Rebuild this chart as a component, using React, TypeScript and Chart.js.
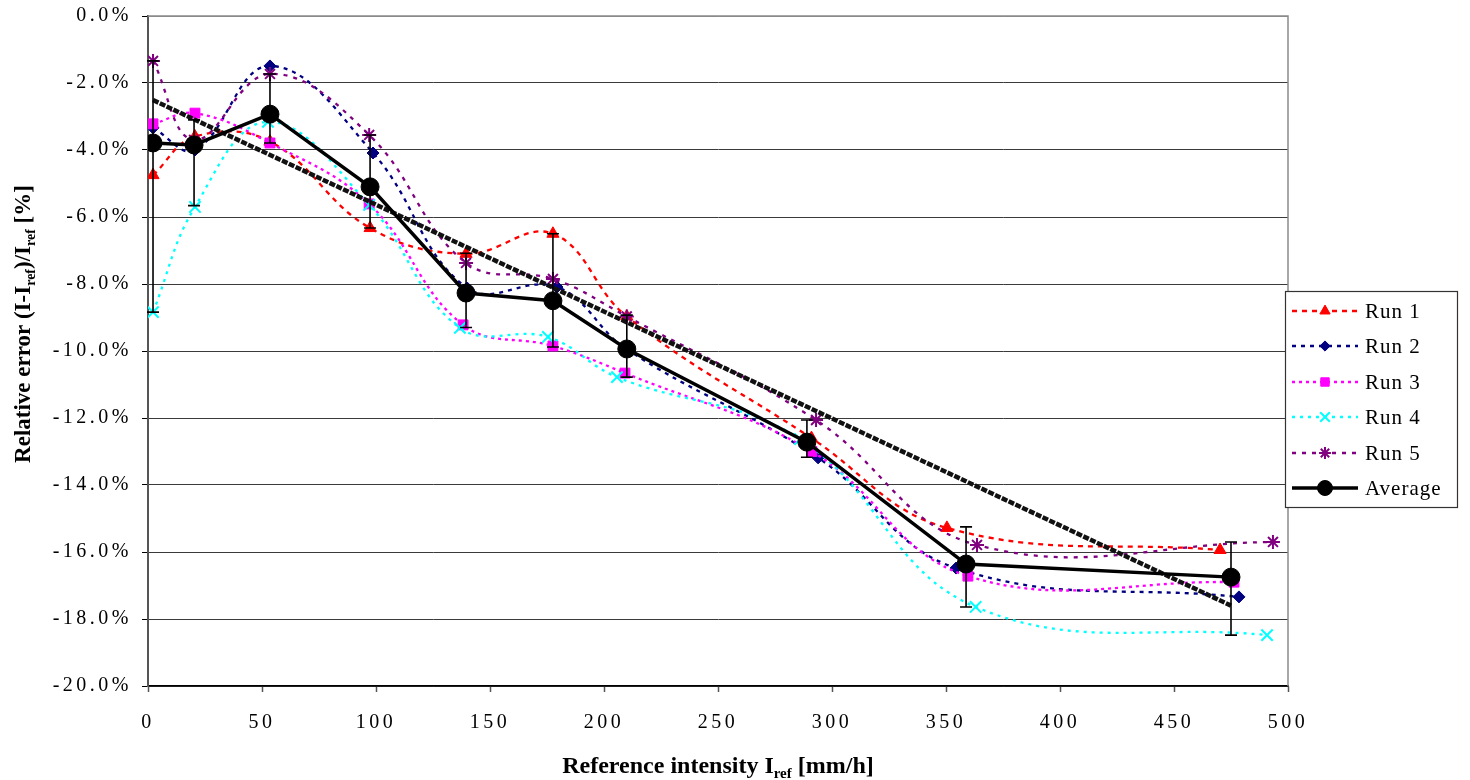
import React, { useEffect, useRef } from "react";
import { Chart, registerables } from "chart.js";
import { drawPoint } from "chart.js/helpers";

Chart.register(...registerables);

// ---------------- data ----------------
const xTickStep = 50;
const yTickStep = 2;

const run1X = [2.2, 20.6, 53.5, 97.4, 139.5, 177.6, 210, 291, 350.4, 470.2];
const run1Y = [-4.75, -3.6, -3.75, -6.33, -7.1, -6.5, -8.97, -12.6, -15.28, -15.94];

const run2X = [2.2, 20.6, 53.5, 98.7, 140, 179.4, 210, 293.9, 354.4, 478.5];
const run2Y = [-3.34, -4.0, -1.49, -4.09, -8.12, -8.09, -9.95, -13.19, -16.48, -17.34];

const run3X = [2.2, 20.6, 53.5, 97, 138.2, 177.6, 209.2, 291.2, 359.6, 476.3];
const run3Y = [-3.22, -2.9, -3.79, -5.61, -9.22, -9.85, -10.66, -13.0, -16.72, -16.9];

const run4X = [2.2, 20.6, 52.6, 97, 136.8, 175.4, 205.7, 286, 363, 490.8];
const run4Y = [-8.84, -5.7, -3.16, -5.64, -9.31, -9.58, -10.78, -12.63, -17.64, -18.48];

const run5X = [2.2, 20.2, 53.5, 97, 139.5, 177.6, 210, 293, 363.6, 493.4];
const run5Y = [-1.34, -3.7, -1.73, -3.55, -7.37, -7.85, -8.97, -12.06, -15.79, -15.7];

const avgX = [2.2, 20.2, 53.5, 97.4, 139.5, 177.6, 210, 289, 358.8, 475];
const avgY = [-3.79, -3.85, -2.93, -5.1, -8.27, -8.5, -9.94, -12.72, -16.36, -16.75];
const avgErrTop = [-1.34, -3.1, -1.73, -3.55, -7.08, -6.5, -8.93, -12.06, -15.25, -15.7];
const avgErrBottom = [-8.84, -5.66, -3.79, -6.33, -9.3, -9.88, -10.78, -13.17, -17.64, -18.48];

const trendX = [2.2, 475];
const trendY = [-2.51, -17.6];

const seriesLabels = ["Run 1", "Run 2", "Run 3", "Run 4", "Run 5", "Average"];
const xTitle = [{ t: "Reference intensity I" }, { t: "ref", sub: true }, { t: " [mm/h]" }];
const yTitle = [
  { t: "Relative error (I-I" },
  { t: "ref", sub: true },
  { t: ")/I" },
  { t: "ref", sub: true },
  { t: " [%]" },
];

// ---------------- styles ----------------
const FONT = "'Liberation Serif', 'Times New Roman', serif";

const runStyles = [
  { color: "#FF0000", dash: [5, 5], pointStyle: "triangle", radius: 7, bw: 1 },
  { color: "#000080", dash: [4, 5], pointStyle: "rectRot", radius: 6, bw: 1 },
  { color: "#FF00FF", dash: [3, 4], pointStyle: "rect", radius: 7, bw: 1 },
  { color: "#00FFFF", dash: [3, 5], pointStyle: "crossRot", radius: 8, bw: 2 },
  { color: "#800080", dash: [4, 6], pointStyle: "star", radius: 7, bw: 2 },
];

const toPts = (xs: number[], ys: number[]) => xs.map((x, i) => ({ x, y: ys[i] }));

type Part = { t: string; sub?: boolean };

function drawRich(ctx: CanvasRenderingContext2D, parts: Part[], size: number, cx: number, cy: number) {
  const subSize = Math.round(size * 0.62);
  const fontMain = `bold ${size}px ${FONT}`;
  const fontSub = `bold ${subSize}px ${FONT}`;
  let total = 0;
  const widths = parts.map((p) => {
    ctx.font = p.sub ? fontSub : fontMain;
    const w = ctx.measureText(p.t).width;
    total += w;
    return w;
  });
  let x = cx - total / 2;
  ctx.textAlign = "left";
  ctx.textBaseline = "alphabetic";
  parts.forEach((p, i) => {
    ctx.font = p.sub ? fontSub : fontMain;
    ctx.fillText(p.t, x, cy + (p.sub ? size * 0.22 : 0));
    x += widths[i];
  });
}

const decorPlugin = {
  id: "decor",
  beforeDraw(chart: any) {
    (chart.ctx as any).letterSpacing = "3.5px";
  },
  beforeDatasetDraw(chart: any, args: any) {
    if (args.meta.label !== "Average") return;
    const ctx = chart.ctx as CanvasRenderingContext2D;
    const xs = chart.scales.x;
    const ys = chart.scales.y;
    ctx.save();
    ctx.strokeStyle = "#000";
    ctx.lineWidth = 1.6;
    ctx.setLineDash([]);
    avgX.forEach((xv, i) => {
      const px = xs.getPixelForValue(xv);
      const t = ys.getPixelForValue(avgErrTop[i]);
      const b = ys.getPixelForValue(avgErrBottom[i]);
      ctx.beginPath();
      ctx.moveTo(px, t);
      ctx.lineTo(px, b);
      ctx.moveTo(px - 6, t);
      ctx.lineTo(px + 6, t);
      ctx.moveTo(px - 6, b);
      ctx.lineTo(px + 6, b);
      ctx.stroke();
    });
    ctx.restore();
  },
  afterDraw(chart: any) {
    const ctx = chart.ctx as CanvasRenderingContext2D;
    const area = chart.chartArea;
    ctx.save();
    (ctx as any).letterSpacing = "0px";

    // top and right border of plot area
    ctx.strokeStyle = "#8a8a8a";
    ctx.lineWidth = 1.5;
    ctx.beginPath();
    ctx.moveTo(area.left, area.top);
    ctx.lineTo(area.right, area.top);
    ctx.lineTo(area.right, area.bottom);
    ctx.stroke();

    // axis titles
    ctx.fillStyle = "#000";
    drawRich(ctx, xTitle, 24, (area.left + area.right) / 2, 773);
    ctx.save();
    ctx.translate(30, 324);
    ctx.rotate(-Math.PI / 2);
    drawRich(ctx, yTitle, 23, 0, 0);
    ctx.restore();

    // legend
    const lx = 1285, ly = 291, lw = 172, lh = 216;
    ctx.fillStyle = "#fff";
    ctx.fillRect(lx, ly, lw, lh);
    ctx.strokeStyle = "#333";
    ctx.lineWidth = 1.2;
    ctx.strokeRect(lx + 0.5, ly + 0.5, lw, lh);
    const rowY = [311, 346, 382, 417, 453, 488];
    seriesLabels.forEach((label, i) => {
      const y = rowY[i];
      const isAvg = i === 5;
      const st = isAvg ? null : runStyles[i];
      ctx.save();
      ctx.strokeStyle = isAvg ? "#000" : st!.color;
      ctx.lineWidth = isAvg ? 3.5 : 2.5;
      ctx.setLineDash(isAvg ? [] : st!.dash);
      ctx.beginPath();
      ctx.moveTo(1292, y);
      ctx.lineTo(1358, y);
      ctx.stroke();
      ctx.setLineDash([]);
      ctx.fillStyle = isAvg ? "#000" : st!.color;
      ctx.strokeStyle = isAvg ? "#000" : st!.color;
      ctx.lineWidth = isAvg ? 1 : st!.bw;
      drawPoint(
        ctx,
        {
          pointStyle: isAvg ? "circle" : st!.pointStyle,
          radius: isAvg ? 7.5 : st!.radius * 0.85,
          rotation: 0,
          borderWidth: isAvg ? 1 : st!.bw,
        } as any,
        1325,
        y
      );
      ctx.restore();
      ctx.fillStyle = "#000";
      ctx.font = `21px ${FONT}`;
      (ctx as any).letterSpacing = "1px";
      ctx.textAlign = "left";
      ctx.textBaseline = "middle";
      ctx.fillText(label, 1365, y + 1);
      (ctx as any).letterSpacing = "0px";
    });

    ctx.restore();
  },
};

export default function App() {
  const ref = useRef<HTMLCanvasElement>(null);

  useEffect(() => {
    const runXs = [run1X, run2X, run3X, run4X, run5X];
    const runYs = [run1Y, run2Y, run3Y, run4Y, run5Y];
    const runDatasets = runStyles.map((st, i) => ({
      label: seriesLabels[i],
      data: toPts(runXs[i], runYs[i]),
      showLine: true,
      borderColor: st.color,
      backgroundColor: st.color,
      borderWidth: 2.3,
      borderDash: st.dash,
      tension: 0.4,
      pointStyle: st.pointStyle,
      pointRadius: st.radius,
      pointBorderWidth: st.bw,
      pointBorderColor: st.color,
      pointBackgroundColor: st.color,
      order: 10 - i,
    }));

    const chart = new Chart(ref.current as HTMLCanvasElement, {
      type: "scatter",
      data: {
        datasets: [
          {
            label: "Average",
            data: toPts(avgX, avgY),
            showLine: true,
            borderColor: "#000",
            backgroundColor: "#000",
            borderWidth: 3.5,
            tension: 0,
            pointStyle: "circle",
            pointRadius: 9,
            pointBorderWidth: 1,
            pointBackgroundColor: "#000",
            pointBorderColor: "#000",
            order: 0,
          } as any,
          {
            label: "Trend",
            data: toPts(trendX, trendY),
            showLine: true,
            borderColor: "#111",
            borderWidth: 4.5,
            borderDash: [6, 1.5],
            pointRadius: 0,
            tension: 0,
            order: 1,
          } as any,
          ...runDatasets,
        ],
      },
      options: {
        responsive: false,
        animation: false,
        devicePixelRatio: 1,
        layout: { padding: { top: 16, right: 182, left: 0, bottom: 0 } },
        plugins: {
          legend: { display: false },
          tooltip: { enabled: false },
          title: { display: false },
        },
        scales: {
          x: {
            type: "linear",
            min: 0,
            max: 500,
            ticks: {
              stepSize: xTickStep,
              color: "#000",
              font: { family: FONT, size: 20 },
              padding: 19,
              maxRotation: 0,
              autoSkip: false,
            },
            grid: {
              drawOnChartArea: false,
              drawTicks: true,
              tickLength: 6,
              tickColor: "#555",
              tickWidth: 1.5,
            },
            border: { color: "#000", width: 1.5 },
            afterFit(s: any) {
              s.height = 94;
              s.paddingLeft = 0;
              s.paddingRight = 0;
            },
          },
          y: {
            type: "linear",
            min: -20,
            max: 0,
            ticks: {
              stepSize: yTickStep,
              color: "#000",
              font: { family: FONT, size: 20 },
              padding: 10,
              callback: (v: any) => Number(v).toFixed(1) + "%",
            },
            grid: {
              color: (c: any) => (c.tick && c.tick.value === 0 ? "#8a8a8a" : "#3a3a3a"),
              lineWidth: 1,
              tickLength: 6,
              tickColor: "#000",
            },
            border: { color: "#555", width: 2 },
            afterFit(s: any) {
              s.width = 148;
              s.paddingTop = 0;
              s.paddingBottom = 0;
            },
          },
        },
      } as any,
      plugins: [decorPlugin as any],
    });
    return () => chart.destroy();
  }, []);

  return (
    <div style={{ position: "fixed", left: 0, top: 0, width: 1470, height: 780, background: "#fff" }}>
      <canvas ref={ref} width={1470} height={780} style={{ display: "block", width: 1470, height: 780 }} />
    </div>
  );
}
